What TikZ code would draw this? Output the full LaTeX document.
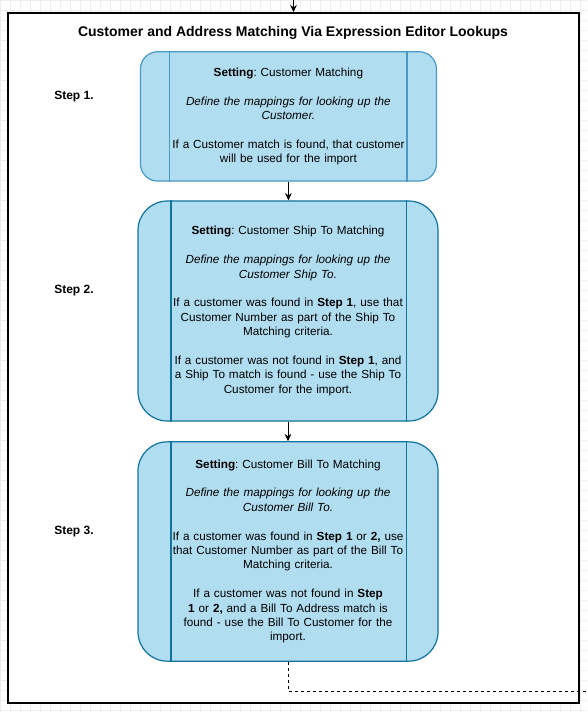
\documentclass[tikz,border=0pt]{standalone}
\usepackage{fontspec}
\setmainfont{Liberation Sans}
\usetikzlibrary{arrows.meta}
\usetikzlibrary{calc}
\usetikzlibrary{positioning}
\frenchspacing

\definecolor{azulfundo}{RGB}{177,221,240}
\definecolor{bordaA}{RGB}{74,152,196}
\definecolor{bordaB}{RGB}{16,115,158}
\definecolor{grade}{RGB}{238,238,238}

\tikzset{
  caixa/.style={draw=bordaB, fill=azulfundo, line width=0.9pt, inner sep=0pt,
    text width=180pt, align=center, minimum width=225pt, minimum height=165pt,
    rounded corners=22pt, font=\fontsize{8.8}{10.8}\selectfont},
  divisa/.style={line width=0.9pt},
  rotulo/.style={font=\fontsize{9}{10.8}\selectfont\bfseries, anchor=west, inner sep=0pt},
  seta/.style={-{Stealth[length=5.5pt,width=5pt]}, line width=0.75pt}
}

\begin{document}
\begin{tikzpicture}[x=0.75pt,y=-0.75pt]
\useasboundingbox (0,0) rectangle (587,712);

% grade de fundo
\draw[grade, line width=0.4pt, step=7.5pt] (0,0) grid (587,712);

% moldura
\node[draw, fill=white, line width=1.1pt, minimum width=428.25pt, minimum height=517.5pt, inner sep=0pt]
  (moldura) at (293.5,358) {};
\node[font=\fontsize{10.5}{12.6}\selectfont\bfseries, anchor=base] (titulo) at (293,36.5)
  {Customer and Address Matching Via Expression Editor Lookups};
\coordinate (entrada) at (293.5,0);
\draw[seta] (entrada) -- (moldura.north);

% rotulos dos passos
\node[rotulo] (r1) at (54,96.5) {Step 1.};
\node[rotulo] (r2) at (54,291) {Step 2.};
\node[rotulo] (r3) at (54,531.5) {Step 3.};

% caixas
\node[caixa, draw=bordaA, minimum width=222pt, minimum height=97pt, rounded corners=13pt]
  (passo1) at (288.4,116.4) {%
  \textbf{Setting}: Customer Matching\\[10.8pt]
  \textit{Define the mappings for looking up the}\\
  \textit{Customer.}\\[10.8pt]
  If a Customer match is found, that customer\\
  will be used for the import};
\draw[divisa, bordaA] ($(passo1.north west)+(30,0)$) -- ($(passo1.south west)+(30,0)$);
\draw[divisa, bordaA] ($(passo1.north east)+(-30,0)$) -- ($(passo1.south east)+(-30,0)$);

\node[caixa] (passo2) at (288,311) {%
  \textbf{Setting}: Customer Ship To Matching\\[10.8pt]
  \textit{Define the mappings for looking up the}\\
  \textit{Customer Ship To.}\\[10.8pt]
  If a customer was found in \textbf{Step 1}, use that\\
  Customer Number as part of the Ship To\\
  Matching criteria.\\[10.8pt]
  If a customer was not found in \textbf{Step 1}, and\\
  a Ship To match is found - use the Ship To\\
  Customer for the import.};
\draw[divisa, bordaB] ($(passo2.north west)+(33.5,0)$) -- ($(passo2.south west)+(33.5,0)$);
\draw[divisa, bordaB] ($(passo2.north east)+(-32.5,0)$) -- ($(passo2.south east)+(-32.5,0)$);

\node[caixa, minimum height=164.5pt] (passo3) at (288,551.5) {%
  \textbf{Setting}: Customer Bill To Matching\\[10.8pt]
  \textit{Define the mappings for looking up the}\\
  \textit{Customer Bill To.}\\[10.8pt]
  If a customer was found in \textbf{Step 1} or \textbf{2,} use\\
  that Customer Number as part of the Bill To\\
  Matching criteria.\\[10.8pt]
  If a customer was not found in \textbf{Step}\\
  \textbf{1} or \textbf{2,} and a Bill To Address match is\\
  found - use the Bill To Customer for the\\
  import.};
\draw[divisa, bordaB] ($(passo3.north west)+(33.5,0)$) -- ($(passo3.south west)+(33.5,0)$);
\draw[divisa, bordaB] ($(passo3.north east)+(-32.5,0)$) -- ($(passo3.south east)+(-32.5,0)$);

% ligacoes
\draw[seta] (passo1.south) -- (passo1.south |- passo2.north);
\draw[seta] (passo2.south) -- (passo3.north);
\coordinate (saida) at (587,691);
\draw[line width=0.75pt, dash pattern=on 2.25pt off 2.25pt] (passo3.south) |- (saida);

\end{tikzpicture}
\end{document}
